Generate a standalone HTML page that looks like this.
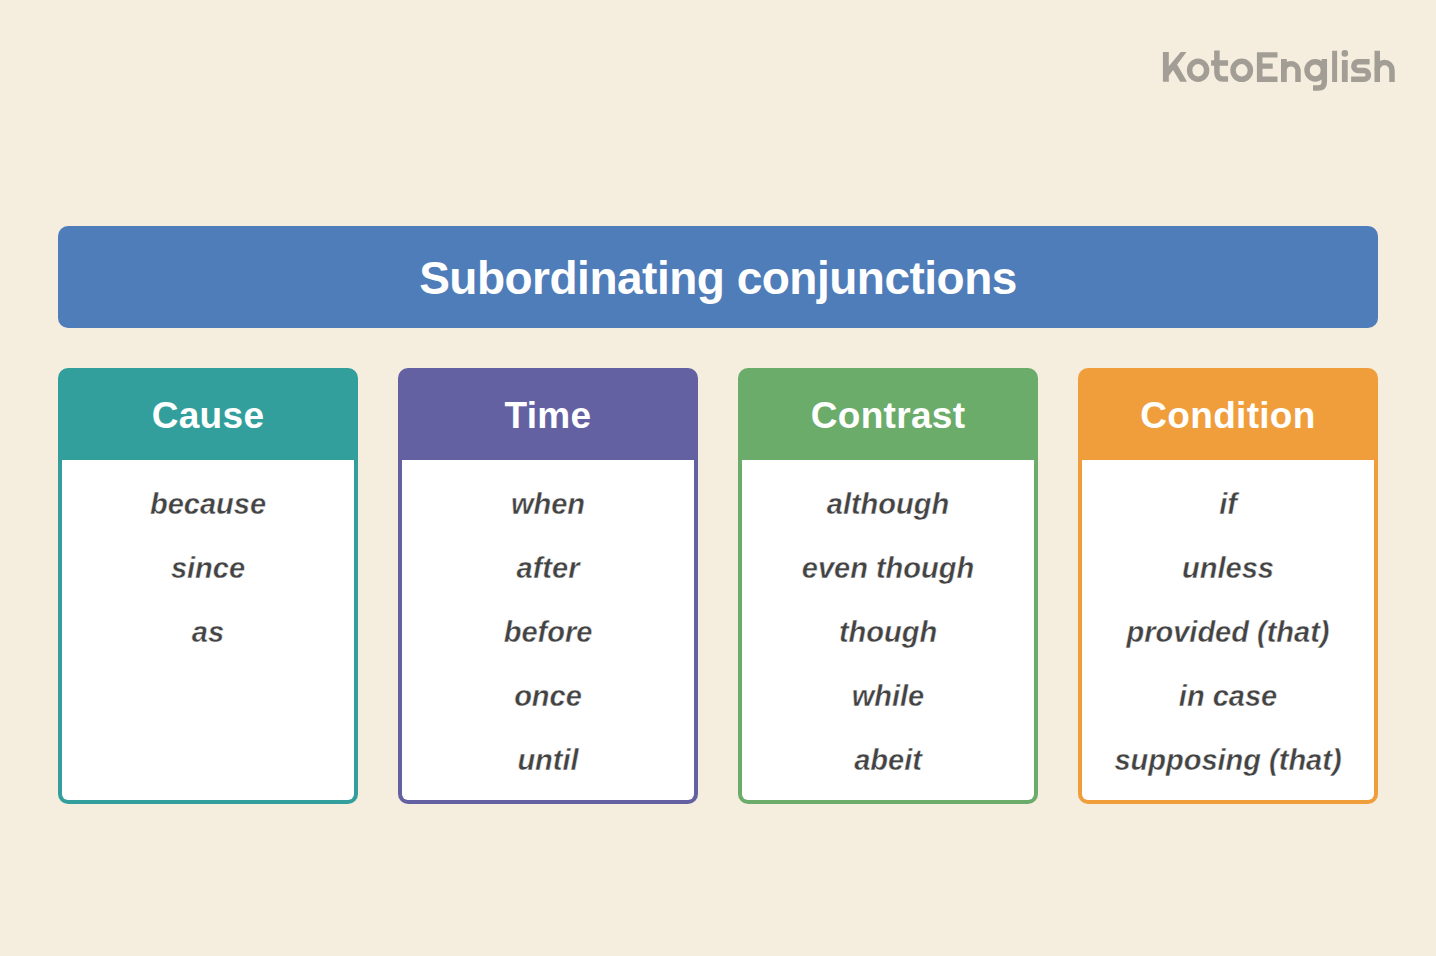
<!DOCTYPE html>
<html>
<head>
<meta charset="utf-8">
<style>
  html, body { margin: 0; padding: 0; }
  body {
    width: 1436px; height: 956px; overflow: hidden;
    background: #F5EEDF;
    font-family: "Liberation Sans", sans-serif;
    position: relative;
  }
  .banner {
    position: absolute; left: 58px; top: 226px; width: 1320px; height: 102px;
    background: #4F7DB9; border-radius: 10px;
  }
  .banner span {
    position: absolute; left: 0; right: 0; top: 0;
    text-align: center; color: #fff; font-weight: bold; font-size: 46px; letter-spacing: -0.5px;
    line-height: 1; white-space: nowrap;
  }
  .card {
    position: absolute; top: 368px; width: 300px; height: 436px;
    border-radius: 10px;
  }
  .card .body {
    position: absolute; left: 4px; top: 92px; width: 292px; height: 340px;
    background: #fff; border-radius: 0 0 6px 6px;
  }
  .card .hd {
    position: absolute; left: 0; top: 0; width: 300px; height: 92px;
    color: #fff; font-weight: bold; font-size: 37px; letter-spacing: 0.3px;
  }
  .card .hd span { position: absolute; left: 0; right: 0; text-align: center; line-height: 1; white-space: nowrap; }
  .card .it {
    position: absolute; left: 0; width: 300px; text-align: center;
    color: #434343; font-weight: bold; font-style: italic; font-size: 29px; line-height: 1; letter-spacing: 0px; -webkit-text-stroke: 0.4px #fff;
    white-space: nowrap;
  }
  .c1 { left: 58px; background: #329F9C; }
  .c2 { left: 398px; background: #6461A3; }
  .c3 { left: 738px; background: #6CAC6B; }
  .c4 { left: 1078px; background: #F09E3C; }
</style>
</head>
<body>
  <svg width="1436" height="120" viewBox="0 0 1436 120" style="position:absolute;left:0;top:0">
    <path fill="#A29E96" d="M1162.9,51.9h5.9v29.9h-5.9ZM1180.7,51.9L1186.5,51.9L1168.8,75.8L1168.8,66.2ZM1172.3,68.8L1176.4,63.3L1187.0,81.8L1180.2,81.8ZM1211.1,60.2h17.0v5.6h-17.0ZM1256.9,52.2h5.6v29.7h-5.6ZM1256.9,52.2h20.6v5.4h-20.6ZM1256.9,63.4h15.8v5.4h-15.8ZM1256.9,76.5h20.6v5.4h-20.6ZM1332.1,50.7h5.0v31.2h-5.0ZM1341.9,60.0h5.8v21.9h-5.8ZM1341.50,53.4a3.3,3.3 0 1 0 6.6,0a3.3,3.3 0 1 0 -6.6,0ZM1374.5,50.7h5.5v31.2h-5.5ZM1281.0,59.0h5.8v22.9h-5.8Z"/>
    <path fill="none" stroke="#A29E96" stroke-width="5.5" d="M1189.60,70.35a8.5,9.0 0 1 0 17.0,0a8.5,9.0 0 1 0 -17.0,0ZM1233.00,70.35a8.7,9.0 0 1 0 17.4,0a8.7,9.0 0 1 0 -17.4,0ZM1216.9,50.4V72Q1216.9,79.1 1223,79.1H1228.1M1283.9,70A7.1,7.1 0 0 1 1298.0,70V81.9M1307.00,70.3a8.2,8.6 0 1 0 16.4,0a8.2,8.6 0 1 0 -16.4,0ZM1324.3,59V82Q1324.3,88 1318,88H1313M1369.6,61.75H1358.2A4.375,4.375 0 0 0 1358.2,70.5H1364.0A4.375,4.375 0 0 1 1364.0,79.25H1351.1M1377.2,70A7.4,7.4 0 0 1 1392.0,70V81.9"/>
  </svg>
  <div class="banner"><span style="top:29px">Subordinating conjunctions</span></div>

  <div class="card c1">
    <div class="body"></div><div class="hd"><span style="top:29px">Cause</span></div>
    <div class="it" style="top:122px">because</div>
    <div class="it" style="top:186px">since</div>
    <div class="it" style="top:250px">as</div>
  </div>
  <div class="card c2">
    <div class="body"></div><div class="hd"><span style="top:29px">Time</span></div>
    <div class="it" style="top:122px">when</div>
    <div class="it" style="top:186px">after</div>
    <div class="it" style="top:250px">before</div>
    <div class="it" style="top:314px">once</div>
    <div class="it" style="top:378px">until</div>
  </div>
  <div class="card c3">
    <div class="body"></div><div class="hd"><span style="top:29px">Contrast</span></div>
    <div class="it" style="top:122px">although</div>
    <div class="it" style="top:186px">even though</div>
    <div class="it" style="top:250px">though</div>
    <div class="it" style="top:314px">while</div>
    <div class="it" style="top:378px">abeit</div>
  </div>
  <div class="card c4">
    <div class="body"></div><div class="hd"><span style="top:29px">Condition</span></div>
    <div class="it" style="top:122px">if</div>
    <div class="it" style="top:186px">unless</div>
    <div class="it" style="top:250px">provided (that)</div>
    <div class="it" style="top:314px">in case</div>
    <div class="it" style="top:378px">supposing (that)</div>
  </div>
</body>
</html>
